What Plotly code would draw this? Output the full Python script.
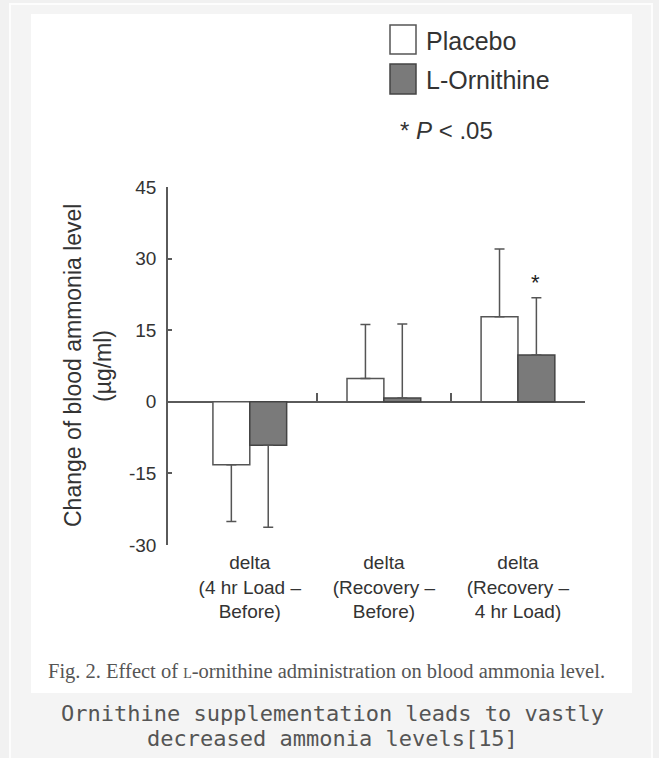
import plotly.graph_objects as go

# ---------------- data ----------------
categories = ["delta<br>(4 hr Load –<br>Before)",
              "delta<br>(Recovery –<br>Before)",
              "delta<br>(Recovery –<br>4 hr Load)"]
placebo = [-13.2, 4.9, 17.8]
placebo_err_up = [0, 11.3, 14.2]
placebo_err_down = [11.9, 0, 0]
ornithine = [-9.1, 0.8, 9.8]
ornithine_err_up = [0, 15.5, 12.0]
ornithine_err_down = [17.2, 0, 0]
y_ticks = [-30, -15, 0, 15, 30, 45]
y_tick_labels = ["-30", "-15", "0", "15", "30", "45"]
separator_ticks = [0.5, 1.5, 2.5]

# ---------------- geometry helpers ----------------
W, H = 659, 758
ML, MR, MT, MB = 168, 74, 187, 213
PW, PH = W - ML - MR, H - MT - MB


def px(x):
    return (x - ML) / PW


def py(y):
    return (H - MB - y) / PH


AX = "#5a5a5a"
TXT = "#333333"
SANS = "Liberation Sans, Arial, sans-serif"

fig = go.Figure()
fig.add_trace(go.Bar(
    x=list(range(len(categories))), y=placebo, name="Placebo",
    marker=dict(color="white", line=dict(color="#555555", width=1.5)),
    error_y=dict(type="data", symmetric=False, array=placebo_err_up,
                 arrayminus=placebo_err_down, color="#555555",
                 thickness=1.5, width=5),
    showlegend=False))
fig.add_trace(go.Bar(
    x=list(range(len(categories))), y=ornithine, name="L-Ornithine",
    marker=dict(color="#7a7a7a", line=dict(color="#444444", width=1.5)),
    error_y=dict(type="data", symmetric=False, array=ornithine_err_up,
                 arrayminus=ornithine_err_down, color="#555555",
                 thickness=1.5, width=5),
    showlegend=False))
# helper trace for the separator-tick axis
fig.add_trace(go.Scatter(x=[], y=[], xaxis="x2", showlegend=False,
                         hoverinfo="skip"))

shapes = []
# outer card border and white picture area
shapes.append(dict(type="rect", xref="paper", yref="paper",
                   x0=px(10), x1=px(652), y0=py(4), y1=py(770),
                   fillcolor="#f4f4f4", line=dict(color="#fdfdfd", width=2),
                   layer="below"))
shapes.append(dict(type="rect", xref="paper", yref="paper",
                   x0=px(31), x1=px(632), y0=py(14), y1=py(693),
                   fillcolor="white", line=dict(width=0), layer="below"))
# legend swatches
shapes.append(dict(type="rect", xref="paper", yref="paper",
                   x0=px(390), x1=px(416), y0=py(25), y1=py(54),
                   fillcolor="white", line=dict(color="#555555", width=1.5)))
shapes.append(dict(type="rect", xref="paper", yref="paper",
                   x0=px(390), x1=px(416), y0=py(64), y1=py(94),
                   fillcolor="#7a7a7a", line=dict(color="#444444", width=1.5)))

annotations = []
annotations.append(dict(text="Placebo", xref="paper", yref="paper",
                        x=px(424), y=py(41), xanchor="left", yanchor="middle",
                        showarrow=False, font=dict(family=SANS, size=25, color=TXT)))
annotations.append(dict(text="L-Ornithine", xref="paper", yref="paper",
                        x=px(424), y=py(80), xanchor="left", yanchor="middle",
                        showarrow=False, font=dict(family=SANS, size=25, color=TXT)))
annotations.append(dict(text="* <i>P</i> &lt; .05", xref="paper", yref="paper",
                        x=px(398), y=py(131), xanchor="left", yanchor="middle",
                        showarrow=False, font=dict(family=SANS, size=24, color=TXT)))
# y-axis title (two lines)
annotations.append(dict(text="Change of blood ammonia level", xref="paper",
                        yref="paper", x=px(73), y=0.5, textangle=-90,
                        xanchor="center", yanchor="middle", showarrow=False,
                        font=dict(family=SANS, size=23, color=TXT)))
annotations.append(dict(text="(µg/ml)", xref="paper",
                        yref="paper", x=px(103), y=0.5, textangle=-90,
                        xanchor="center", yanchor="middle", showarrow=False,
                        font=dict(family=SANS, size=23, color=TXT)))
# significance star above the L-Ornithine bar in the last group
annotations.append(dict(text="*", x=2, xshift=18,
                        y=ornithine[2] + ornithine_err_up[2], yshift=15,
                        xref="x", yref="y", showarrow=False,
                        font=dict(family=SANS, size=22, color="#222222")))
# figure caption
annotations.append(dict(
    text="Fig. 2. Effect of <span style='font-size:14px'>L</span>-ornithine administration on blood ammonia level.",
    xref="paper", yref="paper", x=px(326), y=py(671), xanchor="center",
    yanchor="middle", showarrow=False,
    font=dict(family="Liberation Serif, Times New Roman, serif", size=20.5,
              color="#555555")))
# page caption below the picture
annotations.append(dict(text="Ornithine supplementation leads to vastly",
                        xref="paper", yref="paper", x=px(332), y=py(713),
                        xanchor="center", yanchor="middle", showarrow=False,
                        font=dict(family="DejaVu Sans Mono, monospace", size=22,
                                  color="#555555")))
annotations.append(dict(text="decreased ammonia levels[15]",
                        xref="paper", yref="paper", x=px(332), y=py(738),
                        xanchor="center", yanchor="middle", showarrow=False,
                        font=dict(family="DejaVu Sans Mono, monospace", size=22,
                                  color="#555555")))

xrange = [-0.61, 2.5]
fig.update_layout(
    width=W, height=H,
    margin=dict(l=ML, r=MR, t=MT, b=MB, pad=0),
    paper_bgcolor="#f1f1f1", plot_bgcolor="white",
    barmode="group", bargap=0.45, bargroupgap=0,
    showlegend=False,
    xaxis=dict(range=xrange, tickmode="array",
               tickvals=list(range(len(categories))), ticktext=categories,
               showline=False, showgrid=False, zeroline=False, ticks="",
               tickfont=dict(family=SANS, size=19, color=TXT),
               ticklabelstandoff=4),
    xaxis2=dict(range=xrange, overlaying="x", anchor="free",
                position=(0 - y_ticks[0]) / (y_ticks[-1] - y_ticks[0]),
                side="bottom", tickmode="array", tickvals=separator_ticks,
                ticks="inside", ticklen=9, tickwidth=1.5, tickcolor=AX,
                showticklabels=False, showline=False, showgrid=False,
                zeroline=False),
    yaxis=dict(range=[y_ticks[0], y_ticks[-1]], tickmode="array",
               tickvals=y_ticks, ticktext=y_tick_labels, ticks="inside",
               ticklen=4, tickwidth=1.5,
               tickcolor=AX, showline=True, linecolor=AX, linewidth=1.5,
               showgrid=False, zeroline=True, zerolinecolor=AX,
               zerolinewidth=1.5,
               tickfont=dict(family=SANS, size=19, color=TXT),
               ticklabelstandoff=6),
    shapes=shapes, annotations=annotations,
)

fig.write_html(
    "out.html",
    config={"displayModeBar": False},
    post_script="document.body.style.margin='0';"
                "document.body.style.background='#f1f1f1';"
                "document.body.style.overflow='hidden';")
